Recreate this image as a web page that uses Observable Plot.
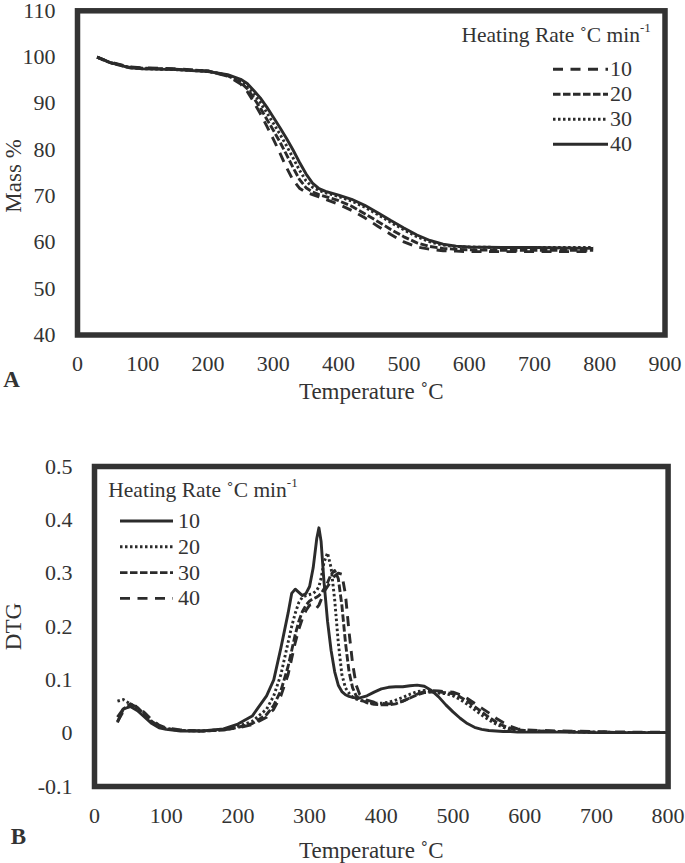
<!DOCTYPE html>
<html><head><meta charset="utf-8">
<script src="https://cdn.jsdelivr.net/npm/d3@7"></script>
<script src="https://cdn.jsdelivr.net/npm/@observablehq/plot@0.6"></script>
<style>
body{margin:0;background:#fff;}
#chart{width:685px;height:863px;position:relative;background:#fff;}
svg{display:block;}
</style></head><body><div id="chart"></div>
<script>
// ---------- Data ----------
const heatingRates = ["10", "20", "30", "40"];

// Panel A: TGA (Mass %)
const tgaTemp = [30, 50, 80, 100, 150, 200, 230, 250, 260, 270, 280, 290, 300, 310, 320, 330, 340, 350, 360, 370, 380, 400, 420, 440, 460, 480, 500, 520, 540, 560, 580, 600, 650, 700, 750, 790];
const tgaMass10 = [100, 98.9, 97.9, 97.7, 97.5, 97.0, 95.9, 94.2, 92.6, 90.3, 87.8, 85.1, 82.3, 79.3, 76.2, 73.5, 71.7, 70.8, 70.3, 69.8, 69.3, 68.2, 66.9, 65.3, 63.5, 61.7, 60.1, 59.0, 58.5, 58.2, 58.1, 58.0, 58.0, 58.0, 58.0, 58.0];
const tgaMass20 = [100, 98.8, 97.8, 97.6, 97.4, 97.0, 96.0, 94.5, 93.2, 91.2, 89.0, 86.6, 84.2, 81.7, 79.0, 76.2, 73.6, 71.8, 70.9, 70.3, 69.9, 69.0, 67.8, 66.2, 64.5, 62.8, 61.2, 59.9, 59.1, 58.7, 58.5, 58.4, 58.3, 58.3, 58.3, 58.3];
const tgaMass30 = [100, 98.8, 97.7, 97.5, 97.3, 96.9, 96.1, 94.9, 93.8, 92.1, 90.2, 88.0, 85.7, 83.4, 80.9, 78.3, 75.6, 73.3, 71.9, 71.2, 70.7, 69.9, 68.9, 67.6, 66.0, 64.3, 62.7, 61.2, 60.1, 59.4, 59.1, 59.0, 58.9, 58.9, 58.9, 58.9];
const tgaMass40 = [100, 98.8, 97.7, 97.5, 97.3, 96.9, 96.2, 95.2, 94.3, 92.8, 91.2, 89.2, 87.0, 84.8, 82.5, 80.0, 77.3, 74.8, 72.8, 71.6, 71.0, 70.2, 69.3, 68.0, 66.4, 64.7, 63.1, 61.6, 60.4, 59.6, 59.2, 59.0, 58.9, 58.9, 58.8, 58.7];

// Panel B: DTG
const dtgTemp = [32, 40, 50, 60, 70, 80, 90, 100, 120, 150, 180, 200, 220, 240, 250, 260, 270, 275, 280, 285, 290, 295, 300, 305, 310, 313, 316, 320, 325, 330, 335, 340, 345, 350, 355, 360, 365, 370, 380, 390, 400, 410, 420, 430, 440, 450, 460, 470, 480, 490, 500, 510, 520, 530, 540, 550, 560, 570, 580, 590, 600, 650, 700, 750, 800];
const dtg10 = [0.030, 0.045, 0.050, 0.042, 0.030, 0.018, 0.010, 0.007, 0.004, 0.004, 0.008, 0.017, 0.032, 0.070, 0.100, 0.160, 0.225, 0.262, 0.270, 0.264, 0.258, 0.262, 0.275, 0.310, 0.365, 0.385, 0.360, 0.285, 0.210, 0.155, 0.115, 0.090, 0.078, 0.072, 0.069, 0.067, 0.066, 0.066, 0.070, 0.077, 0.083, 0.086, 0.087, 0.087, 0.089, 0.090, 0.088, 0.080, 0.068, 0.053, 0.040, 0.028, 0.018, 0.011, 0.007, 0.005, 0.004, 0.003, 0.003, 0.002, 0.002, 0.002, 0.001, 0.001, 0.001];
const dtg20 = [0.060, 0.063, 0.055, 0.045, 0.032, 0.020, 0.012, 0.008, 0.005, 0.004, 0.007, 0.013, 0.022, 0.045, 0.070, 0.110, 0.170, 0.200, 0.225, 0.245, 0.255, 0.258, 0.260, 0.262, 0.268, 0.275, 0.290, 0.320, 0.338, 0.310, 0.250, 0.170, 0.110, 0.085, 0.075, 0.068, 0.064, 0.062, 0.058, 0.056, 0.056, 0.058, 0.062, 0.067, 0.073, 0.078, 0.080, 0.078, 0.075, 0.074, 0.070, 0.063, 0.054, 0.044, 0.034, 0.025, 0.017, 0.011, 0.007, 0.005, 0.004, 0.003, 0.002, 0.001, 0.001];
const dtg30 = [0.020, 0.045, 0.055, 0.048, 0.035, 0.022, 0.013, 0.009, 0.005, 0.004, 0.006, 0.011, 0.018, 0.035, 0.052, 0.080, 0.125, 0.155, 0.185, 0.210, 0.228, 0.240, 0.248, 0.252, 0.255, 0.258, 0.262, 0.270, 0.282, 0.298, 0.305, 0.290, 0.240, 0.170, 0.115, 0.085, 0.070, 0.063, 0.057, 0.054, 0.053, 0.053, 0.055, 0.060, 0.066, 0.072, 0.076, 0.077, 0.077, 0.076, 0.074, 0.068, 0.060, 0.050, 0.040, 0.030, 0.021, 0.014, 0.009, 0.006, 0.005, 0.003, 0.002, 0.001, 0.001];
const dtg40 = [0.022, 0.040, 0.052, 0.050, 0.038, 0.025, 0.015, 0.010, 0.006, 0.004, 0.006, 0.010, 0.016, 0.030, 0.045, 0.070, 0.110, 0.140, 0.170, 0.195, 0.215, 0.230, 0.240, 0.242, 0.235, 0.240, 0.250, 0.265, 0.275, 0.285, 0.295, 0.300, 0.298, 0.260, 0.190, 0.130, 0.090, 0.072, 0.062, 0.058, 0.056, 0.055, 0.056, 0.060, 0.066, 0.073, 0.078, 0.080, 0.079, 0.078, 0.077, 0.072, 0.065, 0.056, 0.047, 0.038, 0.028, 0.020, 0.013, 0.008, 0.006, 0.004, 0.003, 0.002, 0.002];

// Tick values
const tgaXTicks = [0, 100, 200, 300, 400, 500, 600, 700, 800, 900];
const tgaYTicks = [40, 50, 60, 70, 80, 90, 100, 110];
const dtgXTicks = [0, 100, 200, 300, 400, 500, 600, 700, 800];
const dtgYTicks = [-0.1, 0, 0.1, 0.2, 0.3, 0.4, 0.5];

// Text
const xTitle = "Temperature \u02DAC";
const legendTitle = "Heating Rate \u02DAC min";
const legendSup = "-1";

// Line styles per heating rate
const tgaDash = {"10": "10,7.5", "20": "7.5,2.5", "30": "2.5,2.5", "40": null};
const dtgDash = {"10": null, "20": "2.5,2.5", "30": "7.5,2.5", "40": "10,7.5"};

// ---------- Build tidy tables ----------
const tgaSeries = {"10": tgaMass10, "20": tgaMass20, "30": tgaMass30, "40": tgaMass40};
const dtgSeries = {"10": dtg10, "20": dtg20, "30": dtg30, "40": dtg40};
const tgaRows = heatingRates.flatMap(r => tgaTemp.map((t, i) => ({T: t, v: tgaSeries[r][i], rate: r})));
const dtgRows = heatingRates.flatMap(r => dtgTemp.map((t, i) => ({T: t, v: dtgSeries[r][i], rate: r})));

const FONT = "'Liberation Serif', 'Times New Roman', serif";
const INK = "#2b2b2b";
const TXT = "#333";

function seriesLines(rows, dashes) {
  return heatingRates.map(r => Plot.line(rows.filter(d => d.rate === r), {
    x: "T", y: "v", stroke: INK, strokeWidth: 2.9,
    strokeDasharray: dashes[r] || undefined, strokeLinecap: "butt", strokeLinejoin: "round"
  }));
}

function addLegend(svg, opts, dashes) {
  const g = d3.select(svg).append("g")
    .attr("font-family", FONT).attr("fill", TXT).attr("text-anchor", "start");
  const t = g.append("text").attr("x", opts.titleX).attr("y", opts.titleY)
    .attr("dy", "0.32em").attr("font-size", 21.5).text(legendTitle);
  t.append("tspan").attr("font-size", 13).attr("dy", "-0.75em").text(legendSup);
  heatingRates.forEach((r, i) => {
    const y = opts.y0 + i * opts.step;
    g.append("line").attr("x1", opts.lx1).attr("x2", opts.lx2).attr("y1", y).attr("y2", y)
      .attr("stroke", INK).attr("stroke-width", 2.9)
      .attr("stroke-dasharray", dashes[r] || null);
    g.append("text").attr("x", opts.tx).attr("y", y).attr("dy", "0.32em")
      .attr("font-size", 22).text(r);
  });
}

const tickFmt = d => d === 0 ? "0" : String(+d.toFixed(1));

// ---------- Panel A ----------
const plotA = Plot.plot({
  width: 685, height: 420,
  marginLeft: 77, marginRight: 20.5, marginTop: 10.3, marginBottom: 85.5,
  style: {fontFamily: FONT, fontSize: "22px", color: TXT, background: "white", overflow: "visible"},
  x: {domain: [0, 900], ticks: tgaXTicks, tickSize: 0, tickPadding: 20, label: null},
  y: {domain: [40, 110], ticks: tgaYTicks, tickSize: 0, tickPadding: 22, label: null},
  marks: [
    ...seriesLines(tgaRows, tgaDash),
    Plot.frame({stroke: "#333", strokeWidth: 5.5}),
    Plot.text([xTitle], {frameAnchor: "bottom", dy: 56.5, lineAnchor: "middle", fontSize: 23, fill: TXT}),
    Plot.text(["Mass %"], {frameAnchor: "left", dx: -64, dy: 3, rotate: -90, lineAnchor: "middle", textAnchor: "middle", fontSize: 23, fill: TXT}),
    Plot.text(["A"], {frameAnchor: "bottom-left", dx: -66, dy: 44.5, lineAnchor: "middle", textAnchor: "middle", fontSize: 23, fontWeight: "bold", fill: TXT})
  ]
});
addLegend(plotA, {titleX: 461.5, titleY: 35, lx1: 553, lx2: 608, tx: 610, y0: 69.3, step: 25}, tgaDash);

// ---------- Panel B ----------
const plotB = Plot.plot({
  width: 685, height: 443,
  marginLeft: 94, marginRight: 17.4, marginTop: 46, marginBottom: 77,
  style: {fontFamily: FONT, fontSize: "22px", color: TXT, background: "white", overflow: "visible"},
  x: {domain: [0, 800], ticks: dtgXTicks, tickSize: 0, tickPadding: 21, label: null},
  y: {domain: [-0.1, 0.5], ticks: dtgYTicks, tickSize: 0, tickPadding: 22, tickFormat: tickFmt, label: null},
  marks: [
    ...seriesLines(dtgRows, dtgDash),
    Plot.frame({stroke: "#333", strokeWidth: 5.5}),
    Plot.text([xTitle], {frameAnchor: "bottom", dx: -10, dy: 64, lineAnchor: "middle", fontSize: 23, fill: TXT}),
    Plot.text(["DTG"], {frameAnchor: "left", dx: -80.7, rotate: -90, lineAnchor: "middle", textAnchor: "middle", fontSize: 23, fill: TXT}),
    Plot.text(["B"], {frameAnchor: "bottom-left", dx: -76, dy: 50, lineAnchor: "middle", textAnchor: "middle", fontSize: 23, fontWeight: "bold", fill: TXT})
  ]
});
addLegend(plotB, {titleX: 108.3, titleY: 70, lx1: 120, lx2: 173, tx: 178, y0: 101, step: 25.8}, dtgDash);

const chart = document.getElementById("chart");
chart.appendChild(plotA);
chart.appendChild(plotB);
</script>
</body></html>
